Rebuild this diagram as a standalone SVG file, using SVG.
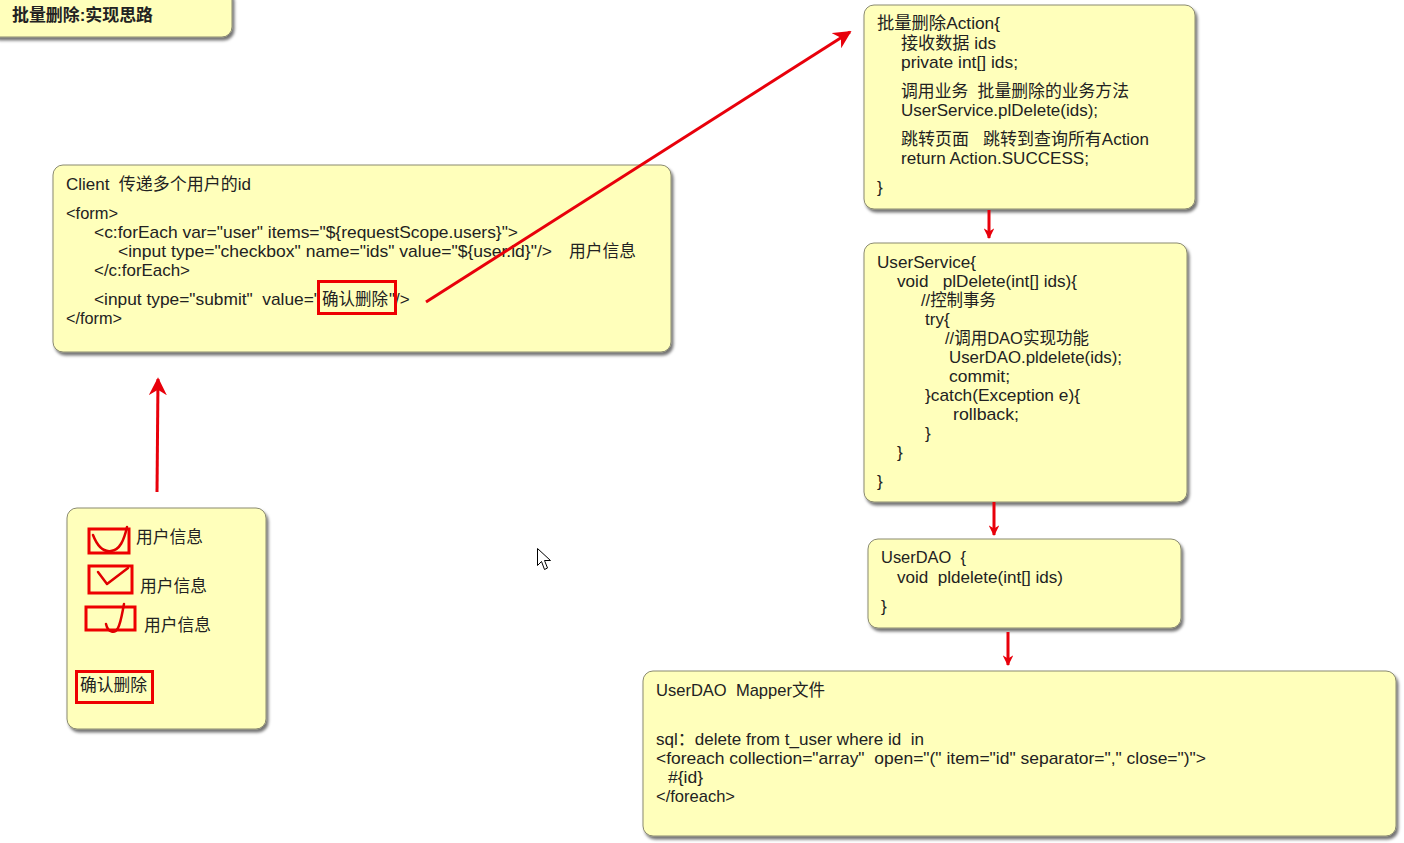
<svg xmlns="http://www.w3.org/2000/svg" width="1404" height="843" viewBox="0 0 1404 843">
<defs>
<filter id="sh" x="-5%" y="-5%" width="115%" height="120%">
<feDropShadow dx="2" dy="3" stdDeviation="1.5" flood-color="#000" flood-opacity="0.55"/>
</filter>
<marker id="ah" viewBox="0 0 10 10" refX="9" refY="5" markerWidth="6" markerHeight="6" orient="auto-start-reverse" markerUnits="strokeWidth">
<path d="M0,0 L10,5 L0,10 L3,5 z" fill="#e8000b"/>
</marker>
<marker id="ah2" viewBox="0 0 10 10" refX="9" refY="5" markerWidth="4" markerHeight="3.6" orient="auto" markerUnits="strokeWidth">
<path d="M0,0 L10,5 L0,10 L3,5 z" fill="#e8000b"/>
</marker>
</defs>
<style>
.box{fill:#ffffbb;stroke:#8a8a70;stroke-width:1;filter:url(#sh)}
text{font-family:"Liberation Sans","Noto Sans CJK SC",sans-serif;font-size:17px;fill:#222222;white-space:pre}
.t{font-weight:bold}
.red{fill:none;stroke:#ee0000;stroke-width:3}
.ck{fill:none;stroke:#e00000;stroke-width:2.5;stroke-linecap:round;stroke-linejoin:round}
.con{fill:none;stroke:#e8000b;stroke-width:3}
</style>
<rect width="1404" height="843" fill="#ffffff"/>

<g id="title">
<rect class="box" x="-12" y="-12" width="244" height="49" rx="10"/>
<text class="t" x="12" y="21" textLength="141" lengthAdjust="spacingAndGlyphs">批量删除:实现思路</text>
</g>

<g id="client">
<rect class="box" x="53" y="165" width="618" height="187" rx="10"/>
<text x="66" y="190" textLength="185" lengthAdjust="spacingAndGlyphs">Client  传递多个用户的id</text>
<text x="66" y="219" textLength="52" lengthAdjust="spacingAndGlyphs">&lt;form&gt;</text>
<text x="94" y="238" textLength="424" lengthAdjust="spacingAndGlyphs">&lt;c:forEach var="user" items="${requestScope.users}"&gt;</text>
<text x="118" y="257" textLength="434" lengthAdjust="spacingAndGlyphs">&lt;input type="checkbox" name="ids" value="${user.id}"/&gt;</text>
<text x="569" y="257" textLength="67" lengthAdjust="spacingAndGlyphs">用户信息</text>
<text x="94" y="276" textLength="96" lengthAdjust="spacingAndGlyphs">&lt;/c:forEach&gt;</text>
<text x="94" y="305" textLength="226" lengthAdjust="spacingAndGlyphs">&lt;input type="submit"  value="</text>
<text x="322" y="305" textLength="66" lengthAdjust="spacingAndGlyphs">确认删除</text>
<text x="389" y="305">"/&gt;</text>
<text x="66" y="324" textLength="56" lengthAdjust="spacingAndGlyphs">&lt;/form&gt;</text>
<rect class="red" x="318.5" y="281.5" width="77" height="32"/>
</g>

<g id="checkboxes">
<rect class="box" x="67" y="508" width="199" height="221" rx="10"/>
<rect class="red" x="89" y="529" width="40" height="24"/>
<path class="ck" d="M93,535 C98,548 104,552 111,551 C120,550 124,540 127,527"/>
<text x="136" y="543" textLength="67" lengthAdjust="spacingAndGlyphs">用户信息</text>
<rect class="red" x="89" y="566" width="43" height="27"/>
<path class="ck" d="M98,572 L107,584 L128,568"/>
<text x="140" y="592" textLength="67" lengthAdjust="spacingAndGlyphs">用户信息</text>
<rect class="red" x="86" y="607" width="49" height="23"/>
<path class="ck" d="M124,604 C122,614 121,622 118,628 C115,634 108,633 106,624"/>
<text x="144" y="631" textLength="67" lengthAdjust="spacingAndGlyphs">用户信息</text>
<rect class="red" x="76.5" y="671.5" width="76" height="31"/>
<text x="80" y="691" textLength="67" lengthAdjust="spacingAndGlyphs">确认删除</text>
</g>

<g id="action">
<rect class="box" x="864" y="5" width="331" height="204" rx="10"/>
<text x="877" y="29" textLength="123" lengthAdjust="spacingAndGlyphs">批量删除Action{</text>
<text x="901" y="49" textLength="95" lengthAdjust="spacingAndGlyphs">接收数据 ids</text>
<text x="901" y="68" textLength="117" lengthAdjust="spacingAndGlyphs">private int[] ids;</text>
<text x="901" y="97" textLength="228" lengthAdjust="spacingAndGlyphs">调用业务  批量删除的业务方法</text>
<text x="901" y="116" textLength="197" lengthAdjust="spacingAndGlyphs">UserService.plDelete(ids);</text>
<text x="901" y="145" textLength="248" lengthAdjust="spacingAndGlyphs">跳转页面   跳转到查询所有Action</text>
<text x="901" y="164" textLength="188" lengthAdjust="spacingAndGlyphs">return Action.SUCCESS;</text>
<text x="877" y="193">}</text>
</g>

<g id="userservice">
<rect class="box" x="864" y="243" width="323" height="259" rx="10"/>
<text x="877" y="268" textLength="99" lengthAdjust="spacingAndGlyphs">UserService{</text>
<text x="897" y="287" textLength="180" lengthAdjust="spacingAndGlyphs">void   plDelete(int[] ids){</text>
<text x="921" y="306" textLength="75" lengthAdjust="spacingAndGlyphs">//控制事务</text>
<text x="925" y="325">try{</text>
<text x="945" y="344" textLength="144" lengthAdjust="spacingAndGlyphs">//调用DAO实现功能</text>
<text x="949" y="363" textLength="173" lengthAdjust="spacingAndGlyphs">UserDAO.pldelete(ids);</text>
<text x="949" y="382" textLength="61" lengthAdjust="spacingAndGlyphs">commit;</text>
<text x="925" y="401" textLength="155" lengthAdjust="spacingAndGlyphs">}catch(Exception e){</text>
<text x="953" y="420" textLength="66" lengthAdjust="spacingAndGlyphs">rollback;</text>
<text x="925" y="439">}</text>
<text x="897" y="458">}</text>
<text x="877" y="487">}</text>
</g>

<g id="userdao">
<rect class="box" x="868" y="539" width="313" height="89" rx="10"/>
<text x="881" y="563" textLength="85" lengthAdjust="spacingAndGlyphs">UserDAO  {</text>
<text x="897" y="583" textLength="166" lengthAdjust="spacingAndGlyphs">void  pldelete(int[] ids)</text>
<text x="881" y="612">}</text>
</g>

<g id="mapper">
<rect class="box" x="643" y="671" width="753" height="165" rx="10"/>
<text x="656" y="696" textLength="169" lengthAdjust="spacingAndGlyphs">UserDAO  Mapper文件</text>
<text x="656" y="745" textLength="268" lengthAdjust="spacingAndGlyphs">sql：delete from t_user where id  in</text>
<text x="656" y="764" textLength="550" lengthAdjust="spacingAndGlyphs">&lt;foreach collection="array"  open="(" item="id" separator="," close=")"&gt;</text>
<text x="668" y="783" textLength="35" lengthAdjust="spacingAndGlyphs">#{id}</text>
<text x="656" y="802" textLength="79" lengthAdjust="spacingAndGlyphs">&lt;/foreach&gt;</text>
</g>

<g id="connectors">
<line class="con" x1="426" y1="302" x2="850" y2="32" marker-end="url(#ah)"/>
<line class="con" x1="157" y1="492" x2="158" y2="379" marker-end="url(#ah)"/>
<line class="con" x1="989" y1="210" x2="989" y2="238" stroke-width="4" marker-end="url(#ah2)"/>
<line class="con" x1="994" y1="502" x2="994" y2="535" stroke-width="4" marker-end="url(#ah2)"/>
<line class="con" x1="1008" y1="632" x2="1008" y2="665" stroke-width="4" marker-end="url(#ah2)"/>
</g>

<g id="cursor">
<path d="M537.5,548.5 L537.5,565.5 L541.5,561.5 L544.5,569.5 L547.5,568 L544.5,560.5 L550.5,560.5 z" fill="#ffffff" stroke="#000000" stroke-width="1"/>
</g>
</svg>
